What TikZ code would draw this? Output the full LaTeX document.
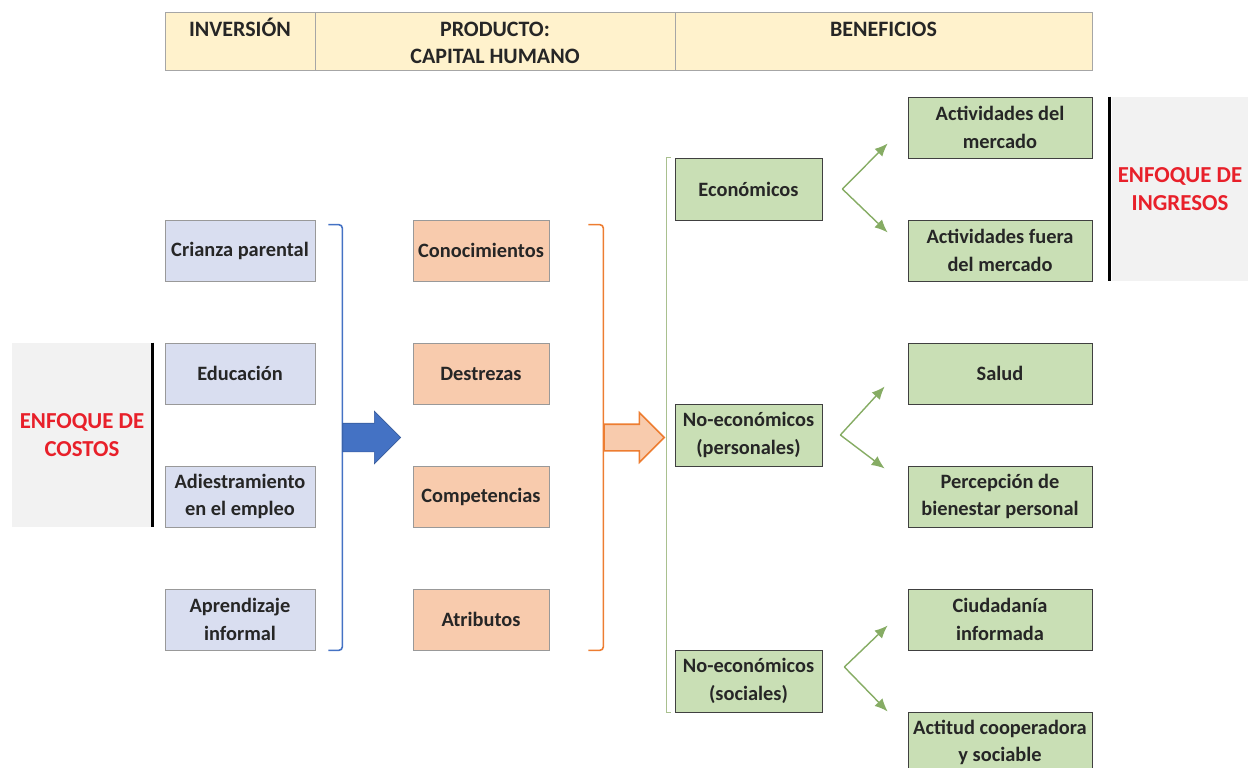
\documentclass[tikz,border=0pt]{standalone}
\usepackage{fontspec}
\setmainfont{Carlito}
\usetikzlibrary{positioning,calc,shapes.arrows,arrows.meta}
\definecolor{headfill}{HTML}{FFF2CC}
\definecolor{invfill}{HTML}{D9DEF0}
\definecolor{prodfill}{HTML}{F8CBAD}
\definecolor{benfill}{HTML}{C9DFB5}
\definecolor{enfill}{HTML}{F2F2F2}
\definecolor{blueline}{HTML}{4472C4}
\definecolor{orangeline}{HTML}{ED7D31}
\definecolor{greenline}{HTML}{A9C08F}
\definecolor{greenarrow}{HTML}{86AC64}
\definecolor{enred}{HTML}{E8202A}

\begin{document}
\begin{tikzpicture}[node distance=2.46cm,
    every node/.style={font=\fontsize{11.6}{15.5}\selectfont\bfseries, text=black!85},
    headbox/.style={draw=gray!70, fill=headfill, rectangle, minimum height=1.16cm, inner sep=0pt},
    headtext/.style={align=center, inner sep=0pt, font=\fontsize{12.5}{15.5}\selectfont\bfseries},
    invbox/.style={draw=gray!80, fill=invfill, rectangle, minimum width=3cm, minimum height=1.22cm, align=center, inner sep=1pt},
    prodbox/.style={draw=gray!80, fill=prodfill, rectangle, minimum width=2.72cm, minimum height=1.22cm, align=center, inner sep=1pt},
    midbox/.style={draw=black!75, fill=benfill, rectangle, minimum width=2.94cm, minimum height=1.24cm, align=center, inner sep=1pt},
    benbox/.style={draw=black!75, fill=benfill, rectangle, minimum width=3.68cm, minimum height=1.22cm, align=center, inner sep=1pt},
    enbox/.style={fill=enfill, rectangle, minimum height=3.68cm, align=center, inner sep=0pt,
        font=\fontsize{13}{16}\selectfont\bfseries, text=enred},
    garrow/.style={draw=greenarrow, line width=0.8pt, -{Latex[length=2.6mm,width=2.2mm]}}
]
\useasboundingbox (0,0) rectangle (24.96,-15.36);

% header
\node[headbox, minimum width=3cm] (hinv) at (4.8,-0.82) {};
\node[headbox, minimum width=7.2cm] (hprod) at (9.9,-0.82) {};
\node[headbox, minimum width=8.34cm] (hben) at (17.67,-0.82) {};
\node[headtext, below=0.12cm of hinv.north] (tinv) {INVERSIÓN};
\node[headtext, below=0.12cm of hprod.north] (tprod) {PRODUCTO:\vphantom{Ó}\\CAPITAL HUMANO};
\node[headtext, below=0.12cm of hben.north] (tben) {BENEFICIOS\vphantom{Ó}};

% inversion
\node[invbox] (crianza) at (4.8,-5.01) {Crianza parental};
\node[invbox, below of=crianza] (educ) {Educación};
\node[invbox, below of=educ] (adiest) {Adiestramiento\\en el empleo};
\node[invbox, below of=adiest] (aprend) {Aprendizaje\\informal};

% producto
\node[prodbox] (conoc) at (9.62,-5.01) {Conocimientos};
\node[prodbox, below of=conoc] (destr) {Destrezas};
\node[prodbox, below of=destr] (compet) {Competencias};
\node[prodbox, below of=compet] (atrib) {Atributos};

% beneficios
\node[midbox] (eco) at (14.97,-3.78) {Económicos};
\node[midbox, below of=eco, node distance=4.92cm] (pers) {No-económicos\\(personales)};
\node[midbox, below of=pers, node distance=4.92cm] (soc) {No-económicos\\(sociales)};

\node[benbox] (merc) at (20.0,-2.55) {Actividades del\\mercado};
\node[benbox, below of=merc] (fuera) {Actividades fuera\\del mercado};
\node[benbox, below of=fuera] (salud) {Salud};
\node[benbox, below of=salud] (perc) {Percepción de\\bienestar personal};
\node[benbox, below of=perc] (ciud) {Ciudadanía\\informada};
\node[benbox, below of=ciud] (actit) {Actitud cooperadora\\y sociable};

% enfoques
\node[enbox, minimum width=2.8cm] (costos) at (1.64,-8.70) {ENFOQUE DE\\COSTOS};
\node[enbox, minimum width=2.72cm] (ingresos) at (23.6,-3.78) {ENFOQUE DE\\INGRESOS};
\draw[line width=1.6pt] (costos.north east) -- (costos.south east);
\draw[line width=1.6pt] ($(ingresos.north west)+(-0.04,0)$) -- ($(ingresos.south west)+(-0.04,0)$);

% brackets
\draw[blueline, line width=0.9pt, rounded corners=2pt] ($(crianza.north east)+(0.26,-0.1)$) -- ++(0.28,0) |- ($(aprend.south east)+(0.26,0)$);
\draw[orangeline, line width=0.9pt, rounded corners=2pt] ($(conoc.north east)+(0.78,-0.1)$) -- ++(0.3,0) |- ($(atrib.south east)+(0.78,0)$);
\draw[greenline, line width=0.9pt] ($(eco.north west)+(-0.08,0)$) -- ++(-0.08,0) |- ($(soc.south west)+(-0.08,0)$);

% block arrows
\coordinate (bluemid) at ($(crianza.north east)!0.5!(aprend.south east)+(0.54,-0.05)$);
\coordinate (orangemid) at ($(conoc.north east)!0.5!(atrib.south east)+(1.08,-0.05)$);
\node[single arrow, anchor=west, fill=blueline, draw=blueline!80!black, line width=0.4pt,
    minimum height=1.16cm, inner xsep=0pt, inner ysep=0.28cm, single arrow head extend=0.24cm] (barrow) at (bluemid) {};
\node[single arrow, anchor=west, fill=prodfill, draw=orangeline, line width=0.9pt,
    minimum height=1.2cm, inner xsep=0pt, inner ysep=0.25cm, single arrow head extend=0.23cm] (oarrow) at (orangemid) {};

% green arrows
\coordinate (ecov) at ($(eco.east)+(0.4,0)$);
\coordinate (ecoup) at ($(merc.west)+(-0.4,-0.32)$);
\coordinate (ecodown) at ($(fuera.west)+(-0.4,0.36)$);
\coordinate (persv) at ($(pers.east)+(0.36,0)$);
\coordinate (persup) at ($(salud.west)+(-0.46,-0.26)$);
\coordinate (persdown) at ($(perc.west)+(-0.46,0.56)$);
\coordinate (socv) at ($(soc.east)+(0.44,0.28)$);
\coordinate (socup) at ($(ciud.west)+(-0.4,-0.12)$);
\coordinate (socdown) at ($(actit.west)+(-0.4,0.62)$);
\draw[garrow] (ecov) -- (ecoup);
\draw[garrow] (ecov) -- (ecodown);
\draw[garrow] (persv) -- (persup);
\draw[garrow] (persv) -- (persdown);
\draw[garrow] (socv) -- (socup);
\draw[garrow] (socv) -- (socdown);
\end{tikzpicture}
\end{document}
